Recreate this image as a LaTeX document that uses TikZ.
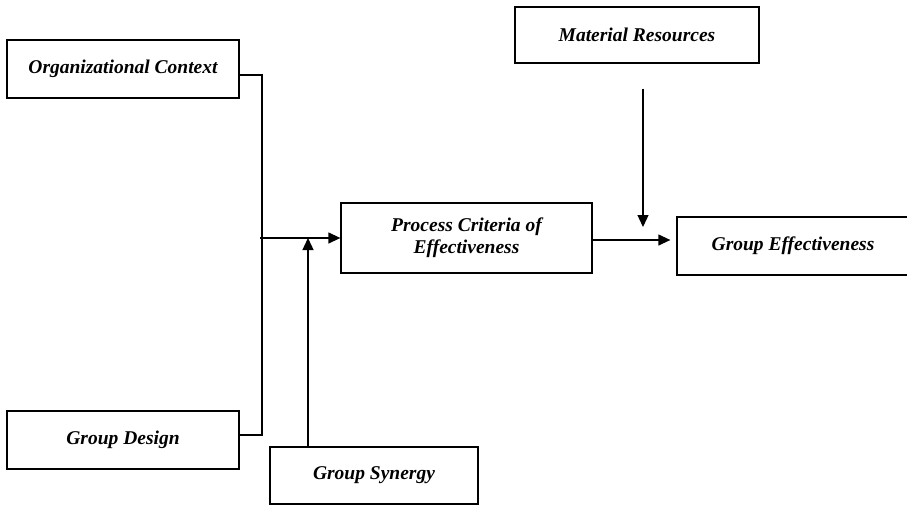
\documentclass[tikz,border=0pt]{standalone}
\usepackage{fontspec}
\setmainfont{Liberation Serif}
\usetikzlibrary{arrows.meta}
\begin{document}
\begin{tikzpicture}[x=1pt,y=-1pt,
  box/.style={draw,line width=1.3pt,rectangle,inner sep=0pt,align=center,
    font=\fontsize{19.5}{22}\selectfont\bfseries\itshape},
  conn/.style={line width=1.3pt},
  arr/.style={conn,-{Triangle[length=12pt,width=11pt]}}]
\useasboundingbox (0,0) rectangle (907,506);
\node[box,minimum width=232pt,minimum height=58pt] (org) at (123,69) {Organizational Context};
\node[box,minimum width=232pt,minimum height=58pt] (gd) at (123,440) {Group Design};
\node[box,minimum width=208pt,minimum height=57pt] (syn) at (374,475.5) {Group Synergy};
\node[box,minimum width=251pt,minimum height=70pt] (proc) at (466.5,238) {Process Criteria of\\Effectiveness};
\node[box,minimum width=244pt,minimum height=56pt] (mat) at (637,35) {Material Resources};
\node[box,minimum width=232pt,minimum height=58pt] (ge) at (793,246) {Group Effectiveness};
\coordinate (bt) at (262,75);
\coordinate (bb) at (262,435);
\coordinate (hs) at (260,238);
\coordinate (sj) at (308,238);
\coordinate (mend) at (643,227);
\draw[conn] (bt -| org.east) -- (bt) -- (bb) -- (bb -| gd.east);
\draw[arr] (hs) -- (proc.west);
\draw[arr] (syn.north -| sj) -- (sj);
\draw[arr,shorten >=6pt] ([yshift=-2pt]proc.east) -- ([yshift=-2pt]proc.east -| ge.west);
\draw[arr,shorten <=25pt] (mat.south -| mend) -- (mend);
\end{tikzpicture}
\end{document}
